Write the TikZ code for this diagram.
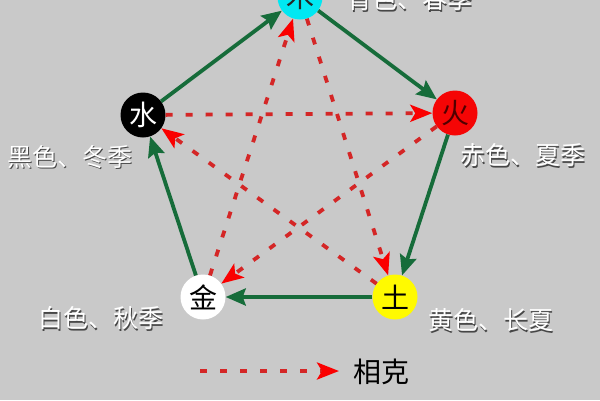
\documentclass[tikz,border=0pt]{standalone}
\usepackage{fontspec}
\newfontfamily\cjk{Noto Sans CJK SC}
\usetikzlibrary{arrows.meta}
\definecolor{bg}{RGB}{201,201,201}
\definecolor{sheng}{RGB}{22,108,58}
\definecolor{kedash}{RGB}{212,38,38}
\definecolor{kehead}{RGB}{250,0,0}
\definecolor{woodc}{RGB}{0,232,242}
\definecolor{firec}{RGB}{245,5,5}
\definecolor{earthc}{RGB}{255,250,0}
\definecolor{firetext}{RGB}{80,0,0}
\definecolor{shadowc}{RGB}{70,70,70}
\tikzset{
  elem/.style={circle, minimum size=45pt, inner sep=0pt, font=\cjk\fontsize{28}{28}\selectfont},
  shengarrow/.style={draw=sheng, line width=3.8pt, -{Stealth[length=20pt,width=17pt,inset=3pt]}},
  kearrow/.style={draw=kedash, line width=3.8pt, dash pattern=on 7pt off 13pt, -{Stealth[length=22pt,width=17pt,inset=5pt,kehead]}},
  lab/.style={font=\cjk\fontsize{25}{25}\selectfont, text=white, inner sep=0pt, anchor=west},
  labsh/.style={font=\cjk\fontsize{25}{25}\selectfont, text=shadowc, inner sep=0pt, anchor=west},
}
\begin{document}
\begin{tikzpicture}[x=1pt,y=-1pt]
\useasboundingbox (0,0) rectangle (600,400);
\clip (0,0) rectangle (600,400);
\fill[bg] (0,0) rectangle (600,400);

% elements
\node[elem, fill=woodc, text=black!85] (mu) at (300,-3) {木};
\node[elem, fill=firec, text=firetext] (huo) at (455,113) {火};
\node[elem, fill=earthc, text=black] (tu) at (395,297) {土};
\node[elem, fill=white, text=black] (jin) at (203,297) {金};
\node[elem, fill=black, text=white!90] (shui) at (143,115) {水};

% generating cycle
\draw[shengarrow] (mu) -- (huo);
\draw[shengarrow] (huo) -- (tu);
\draw[shengarrow] (tu) -- (jin);
\draw[shengarrow] (jin) -- (shui);
\draw[shengarrow] (shui) -- (mu);

% overcoming cycle
\draw[kearrow] (mu) -- (tu);
\draw[kearrow] (tu) -- (shui);
\draw[kearrow] (shui) -- (huo);
\draw[kearrow] (huo) -- (jin);
\draw[kearrow] (jin) -- (mu);

% labels
\node[labsh] (lmus) at (348.5,0.5) {青色、春季};
\node[lab] (lmu) at (347,-1) {青色、春季};
\node[labsh] (lshuis) at (8.5,158.5) {黑色、冬季};
\node[lab] (lshui) at (7,157) {黑色、冬季};
\node[labsh] (lhuos) at (461.5,156.5) {赤色、夏季};
\node[lab] (lhuo) at (460,155) {赤色、夏季};
\node[labsh] (ljins) at (39.5,319.5) {白色、秋季};
\node[lab] (ljin) at (38,318) {白色、秋季};
\node[labsh] (ltus) at (429.5,321.5) {黄色、长夏};
\node[lab] (ltu) at (428,320) {黄色、长夏};

% legend
\coordinate (lgA) at (200,371);
\coordinate (lgB) at (339,371);
\draw[kearrow] (lgA) -- (lgB);
\node[font=\cjk\fontsize{28}{28}\selectfont, text=black, inner sep=0pt] (lgt) at (381,372) {相克};
\end{tikzpicture}
\end{document}
